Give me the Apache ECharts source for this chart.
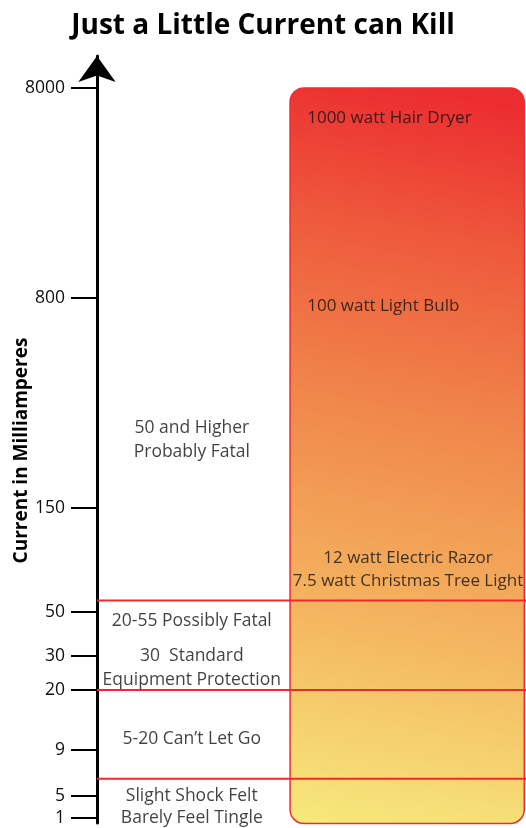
<!DOCTYPE html>
<html>
<head>
<meta charset="utf-8">
<script src="https://cdn.jsdelivr.net/npm/echarts@6/dist/echarts.min.js"></script>
<style>
html,body{margin:0;padding:0;background:#fff;}
#chart{width:526px;height:828px;}
</style>
</head>
<body>
<div id="chart"></div>
<script>
// ---- data ----
const tickValues = [1, 5, 9, 20, 30, 50, 150, 800, 8000];          // mA tick labels
// schematic (non-linear) axis: axis units assigned to each tick value
const scaleBreaks = [5, 27, 73, 133, 167, 211, 315, 525, 735];
const thresholdValues = [6.5, 20, 61];                               // red boundary lines (mA)
const dangerBand = [0, 8000];                                        // gradient panel range (mA)
const leftNoteValues = [398, 323, 46, 30, 23, 11, 5, 1];
const leftNoteTexts = ['50 and Higher', 'Probably Fatal', '20-55 Possibly Fatal', '30  Standard',
  'Equipment Protection', '5-20 Can\u2019t Let Go', 'Slight Shock Felt', 'Barely Feel Tingle'];
const rightNoteValues = [6971, 775, 102, 80];
const rightNoteTexts = ['1000 watt Hair Dryer', '100 watt Light Bulb', '12 watt Electric Razor',
  '7.5 watt Christmas Tree Light'];

// ---- schematic scale ----
function toAxis(v) {
  const t = tickValues, s = scaleBreaks;
  let i = 0;
  if (v <= t[0]) i = 0;
  else if (v >= t[t.length - 1]) i = t.length - 2;
  else { while (!(v >= t[i] && v <= t[i + 1])) i++; }
  return s[i] + (v - t[i]) / (t[i + 1] - t[i]) * (s[i + 1] - s[i]);
}
function fromAxis(u) {
  const t = tickValues, s = scaleBreaks;
  let i = 0;
  if (u <= s[0]) i = 0;
  else if (u >= s[s.length - 1]) i = s.length - 2;
  else { while (!(u >= s[i] && u <= s[i + 1])) i++; }
  return t[i] + (u - s[i]) / (s[i + 1] - s[i]) * (t[i + 1] - t[i]);
}

const FONT = 'Open Sans';
const TXT = '#111';
const chart = echarts.init(document.getElementById('chart'), null, {renderer: 'canvas'});

const lineSeries = thresholdValues.map(v => ({
  type: 'line', silent: true, symbol: 'none', z: 4,
  lineStyle: {color: '#ee2a2e', width: 2},
  data: [[0, toAxis(v)], [100, toAxis(v)]]
}));

const option = {
  animation: false,
  title: {
    text: 'Just a Little Current can Kill', left: 'center', top: 7,
    textStyle: {fontFamily: FONT, fontWeight: 'bold', fontSize: 28, color: '#000'}
  },
  grid: {left: 97, right: 0, top: 56, bottom: 5, outerBoundsMode: 'none', containLabel: false},
  xAxis: {type: 'value', min: 0, max: 100, show: false},
  yAxis: {
    type: 'value', min: 0, max: 767,
    name: 'Current in Milliamperes', nameLocation: 'middle', nameGap: 66, nameMoveOverlap: false,
    nameTextStyle: {fontFamily: FONT, fontWeight: 'bold', fontSize: 19, color: '#000',
      padding: [0, 22, 0, 0]},
    axisLine: {show: true, symbol: ['none', 'arrow'], symbolSize: [28, 26],
      lineStyle: {color: '#000', width: 3}},
    axisTick: {show: true, customValues: tickValues.map(toAxis), length: 26,
      lineStyle: {color: '#000', width: 2}},
    axisLabel: {customValues: tickValues.map(toAxis), margin: 32,
      formatter: v => String(Math.round(fromAxis(v))),
      fontFamily: FONT, fontSize: 17.5, color: TXT},
    splitLine: {show: false}
  },
  series: [
    {
      type: 'custom', z: 1, silent: true, clip: false,
      data: [[45, 99.6, toAxis(dangerBand[0]), toAxis(dangerBand[1])]],
      renderItem: function (params, api) {
        const p0 = api.coord([api.value(0), api.value(3)]);
        const p1 = api.coord([api.value(1), api.value(2)]);
        return {
          type: 'rect',
          shape: {x: p0[0], y: p0[1], width: p1[0] - p0[0], height: p1[1] - p0[1], r: 14},
          style: {
            fill: {type: 'linear', x: 0, y: 1, x2: 0.6, y2: 0, colorStops: [
              {offset: 0, color: '#f6ea7c'},
              {offset: 0.28, color: '#f4b660'},
              {offset: 0.55, color: '#f08a4c'},
              {offset: 0.8, color: '#ee5a3c'},
              {offset: 1, color: '#ec2c30'}]},
            stroke: '#ee2e2e', lineWidth: 1.5
          }
        };
      }
    },
    ...lineSeries,
    {
      type: 'scatter', symbolSize: 0, z: 5, silent: true,
      data: leftNoteValues.map((v, i) => [22.1, toAxis(v), leftNoteTexts[i]]),
      label: {show: true, position: 'inside', formatter: p => p.data[2],
        fontFamily: FONT, fontSize: 17.5, color: TXT}
    },
    {
      type: 'scatter', symbolSize: 0, z: 5, silent: true,
      data: rightNoteValues.slice(0, 2).map((v, i) => [49, toAxis(v), rightNoteTexts[i]]),
      label: {show: true, position: 'right', distance: 0, formatter: p => p.data[2],
        fontFamily: FONT, fontSize: 17, color: TXT}
    },
    {
      type: 'scatter', symbolSize: 0, z: 5, silent: true,
      data: rightNoteValues.slice(2).map((v, i) => [72.5, toAxis(v), rightNoteTexts[i + 2]]),
      label: {show: true, position: 'inside', formatter: p => p.data[2],
        fontFamily: FONT, fontSize: 17, color: TXT}
    }
  ]
};
chart.setOption(option);
</script>
</body>
</html>
